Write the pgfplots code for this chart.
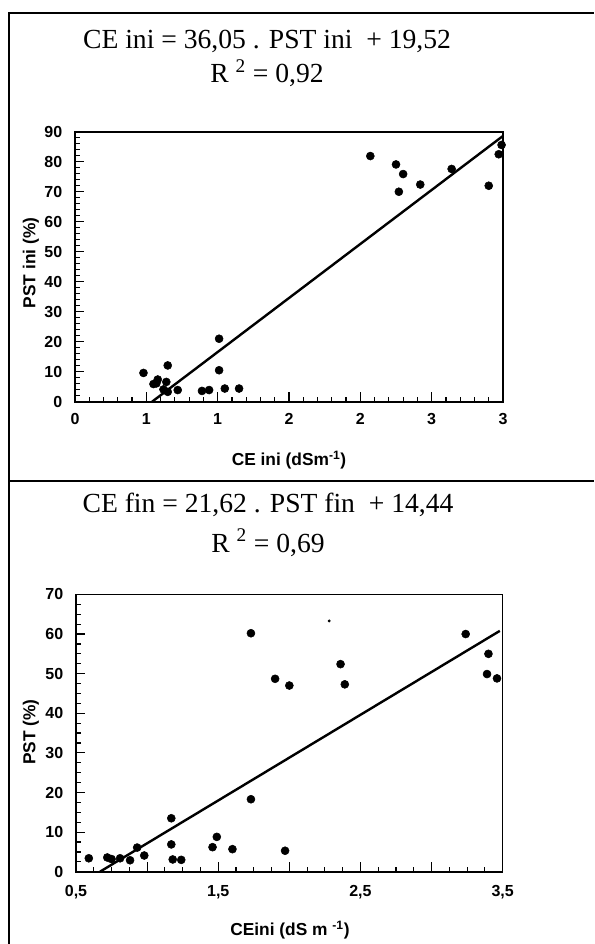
\documentclass[border=0pt]{standalone}
\usepackage{fontspec}
\setmainfont{Liberation Serif}
\setsansfont{Liberation Sans}
\usepackage{pgfplots}
\pgfplotsset{compat=1.18}

% points
\pgfplotstableread{
x y
0.48 9.6
0.55 5.9
0.58 7.4
0.57 6.1
0.65 12.1
0.64 6.6
0.62 4.1
0.65 3.3
0.72 3.9
0.89 3.6
0.94 3.9
1.01 21.0
1.01 10.5
1.05 4.4
1.15 4.4
2.07 81.9
2.25 79.1
2.30 75.9
2.27 70.0
2.42 72.4
2.64 77.6
2.90 72.0
2.97 82.5
2.99 85.6
}\ini
\pgfplotstableread{
x y
0.59 3.4
0.72 3.6
0.75 3.2
0.81 3.4
0.88 2.9
0.93 6.1
0.98 4.1
1.17 13.5
1.17 6.9
1.18 3.1
1.24 3.0
1.46 6.2
1.49 8.8
1.60 5.7
1.73 60.2
1.73 18.3
1.90 48.7
2.00 47.0
1.97 5.3
2.36 52.4
2.39 47.3
3.24 60.0
3.40 55.0
3.39 49.9
3.46 48.8
}\fin

\pgfplotsset{
  panel/.style={
    scale only axis,
    clip=false,
    axis line style={line width=1.2pt},
    tick align=inside,
    tick pos=left,
    major tick length=7pt,
    minor tick length=3.5pt,
    every tick/.style={black, line width=0.9pt},
    ticklabel style={font=\sffamily\bfseries\fontsize{12}{14}\selectfont},
    /pgf/number format/assume math mode=true,
    yticklabel style={xshift=-6pt},
  },
  pts/.style={only marks, mark=*, mark size=3pt, black},
  fit/.style={no marks, black, line width=1.8pt},
}

\begin{document}
\begin{tikzpicture}
\path[use as bounding box] (0,0) rectangle (445.5pt,-708pt);

\begin{scope}[x=0.75pt, y=-0.75pt]
  \draw[line width=1pt] (9,944) -- (9,13) -- (594,13);
  \draw[line width=1pt] (9,481) -- (594,481);
  \node[font=\fontsize{20.7}{23}\selectfont, anchor=base] at (267,49)
    {CE ini = 36,05 . PST ini \ + 19,52};
  \node[font=\fontsize{20.7}{23}\selectfont, anchor=base] at (267,83)
    {R \textsuperscript{2} = 0,92};
  \node[font=\fontsize{20.7}{23}\selectfont, anchor=base] at (268,512)
    {CE fin = 21,62 . PST fin \ + 14,44};
  \node[font=\fontsize{20.7}{23}\selectfont, anchor=base] at (268,552)
    {R \textsuperscript{2} = 0,69};
  \node[font=\sffamily\bfseries\fontsize{13}{15}\selectfont] at (289,460)
    {CE ini (dSm\textsuperscript{-1})};
  \node[font=\sffamily\bfseries\fontsize{13}{15}\selectfont, rotate=90] at (31,263)
    {PST ini (\%)};
  \node[font=\sffamily\bfseries\fontsize{13}{15}\selectfont] at (290,930)
    {CEini (dS m \textsuperscript{-1})};
  \node[font=\sffamily\bfseries\fontsize{13}{15}\selectfont, rotate=90] at (31,732)
    {PST (\%)};
\end{scope}

\begin{axis}[panel,
  at={(56.25pt,-301.3pt)}, anchor=south west,
  width=321pt, height=202.5pt,
  xmin=0, xmax=3, ymin=0, ymax=90,
  xtick={0,0.5,1,1.5,2,2.5,3},
  xticklabels={0,1,1,2,2,3,3},
  ytick={0,10,...,90},
  minor x tick num=4, minor y tick num=4,
  xticklabel style={yshift=-5pt},
]
\addplot[pts] table {\ini};
\addplot[fit] coordinates {(0.54,0) (3.0,88.6)};
\end{axis}

\begin{axis}[panel,
  at={(57pt,-653.8pt)}, anchor=south west,
  width=320pt, height=208pt,
  xmin=0.5, xmax=3.5, ymin=0, ymax=70,
  xtick={0.5,1,1.5,2,2.5,3,3.5},
  xticklabels={{0,5},,{1,5},,{2,5},,{3,5}},
  ytick={0,10,...,70},
  minor x tick num=3, minor y tick num=3,
  xticklabel style={yshift=-7pt},
]
\addplot[pts] table {\fin};
\addplot[only marks, mark=*, mark size=0.9pt, black] coordinates {(2.28,63.3)};
\addplot[fit] coordinates {(0.668,0) (3.48,60.8)};
\end{axis}
\end{tikzpicture}
\end{document}
